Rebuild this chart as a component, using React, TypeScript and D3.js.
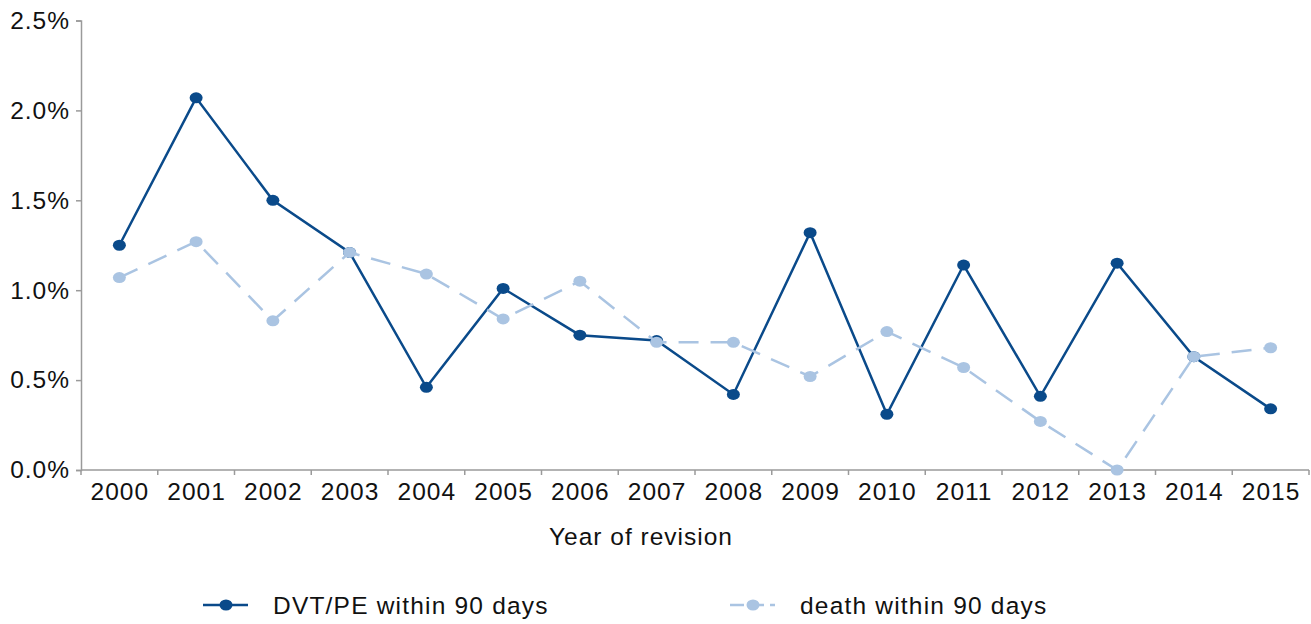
import React, { useEffect, useRef } from 'react';
import * as d3 from 'd3';

const years = ['2000', '2001', '2002', '2003', '2004', '2005', '2006', '2007', '2008', '2009', '2010', '2011', '2012', '2013', '2014', '2015'];
const dvtPe = [1.25, 2.07, 1.5, 1.21, 0.46, 1.01, 0.75, 0.72, 0.42, 1.32, 0.31, 1.14, 0.41, 1.15, 0.63, 0.34];
const death = [1.07, 1.27, 0.83, 1.21, 1.09, 0.84, 1.05, 0.71, 0.71, 0.52, 0.77, 0.57, 0.27, 0.0, 0.63, 0.68];
const yTicks = [0, 0.5, 1, 1.5, 2, 2.5];

const DARK = '#0a4a8a';
const LIGHT = '#aac4e2';
const FONT = '"Liberation Sans", Arial, sans-serif';
const FS = '24.5px';
const LS = '1px';

const App: React.FC = () => {
  const svgRef = useRef<SVGSVGElement | null>(null);

  const width = 1311;
  const height = 624;
  const margin = { top: 20.5, right: 2, bottom: 154, left: 81 };
  const innerW = width - margin.left - margin.right;
  const innerH = height - margin.top - margin.bottom;

  useEffect(() => {
    const root = d3.select(svgRef.current);
    root.selectAll('*').remove();

    const svg = root.append('g').attr('transform', `translate(${margin.left}, ${margin.top})`);

    const x = d3.scaleBand().domain(years).range([0, innerW]);
    const y = d3.scaleLinear().domain([0, 2.5]).range([innerH, 0]);

    // y axis
    const yAxis = svg
      .append('g')
      .call(
        d3
          .axisLeft(y)
          .tickValues(yTicks)
          .tickSize(5)
          .tickPadding(6)
          .tickFormat((d) => `${(+d).toFixed(1)}%`),
      );
    yAxis.select('.domain').attr('stroke', '#9a9a9a').attr('stroke-width', 1.5);
    yAxis.selectAll('.tick line').attr('stroke', '#9a9a9a').attr('stroke-width', 1.5);
    yAxis
      .selectAll('.tick text')
      .attr('fill', '#111')
      .style('font-family', FONT)
      .style('font-size', FS)
      .style('letter-spacing', LS);

    // x axis with ticks between categories
    const xAxis = svg.append('g').attr('transform', `translate(0, ${innerH})`);
    xAxis
      .append('line')
      .attr('x1', 0)
      .attr('x2', innerW)
      .attr('stroke', '#9a9a9a')
      .attr('stroke-width', 1.5);
    const bounds = years.map((yr) => x(yr)!).concat([innerW]);
    xAxis
      .selectAll('.xtick')
      .data(bounds)
      .join('line')
      .attr('class', 'xtick')
      .attr('x1', (d) => d)
      .attr('x2', (d) => d)
      .attr('y1', 0)
      .attr('y2', 5)
      .attr('stroke', '#9a9a9a')
      .attr('stroke-width', 1.5);
    xAxis
      .selectAll('.xlabel')
      .data(years)
      .join('text')
      .attr('class', 'xlabel')
      .attr('x', (d) => x(d)! + x.bandwidth() / 2 + 0.5)
      .attr('y', 30)
      .attr('text-anchor', 'middle')
      .attr('fill', '#111')
      .style('font-family', FONT)
      .style('font-size', FS)
      .style('letter-spacing', LS)
      .text((d) => d);

    svg
      .append('text')
      .attr('x', 641 - margin.left)
      .attr('y', 545 - margin.top)
      .attr('text-anchor', 'middle')
      .attr('fill', '#111')
      .style('font-family', FONT)
      .style('font-size', FS)
      .style('letter-spacing', LS)
      .text('Year of revision');

    const cx = (i: number) => x(years[i])! + x.bandwidth() / 2;
    const line = d3
      .line<number>()
      .x((_, i) => cx(i))
      .y((d) => y(d));

    // DVT/PE series
    svg
      .append('path')
      .datum(dvtPe)
      .attr('fill', 'none')
      .attr('stroke', DARK)
      .attr('stroke-width', 2.5)
      .attr('d', line);
    svg
      .selectAll('.dvt')
      .data(dvtPe)
      .join('ellipse')
      .attr('class', 'dvt')
      .attr('cx', (_, i) => cx(i))
      .attr('cy', (d) => y(d))
      .attr('rx', 6.5)
      .attr('ry', 5.5)
      .attr('fill', DARK);

    // death series
    svg
      .append('path')
      .datum(death)
      .attr('fill', 'none')
      .attr('stroke', LIGHT)
      .attr('stroke-width', 2.5)
      .attr('stroke-dasharray', '20,12')
      .attr('d', line);
    svg
      .selectAll('.death')
      .data(death)
      .join('ellipse')
      .attr('class', 'death')
      .attr('cx', (_, i) => cx(i))
      .attr('cy', (d) => y(d))
      .attr('rx', 6.5)
      .attr('ry', 5.5)
      .attr('fill', LIGHT);

    // legend
    const legend = root.append('g');
    const items = [
      { label: 'DVT/PE within 90 days', color: DARK, x: 203, dash: null },
      { label: 'death within 90 days', color: LIGHT, x: 730, dash: '14,6' },
    ];
    items.forEach((it) => {
      const g = legend.append('g').attr('transform', `translate(${it.x}, 605)`);
      g.append('line')
        .attr('x1', 0)
        .attr('x2', 45)
        .attr('stroke', it.color)
        .attr('stroke-width', 2.5)
        .attr('stroke-dasharray', it.dash ?? null);
      g.append('ellipse').attr('cx', 23).attr('rx', 6.5).attr('ry', 5.5).attr('fill', it.color);
      g.append('text')
        .attr('x', 70)
        .attr('y', 8.5)
        .attr('fill', '#111')
        .style('font-family', FONT)
        .style('font-size', FS)
        .style('letter-spacing', '1.2px')
        .text(it.label);
    });
  });

  return (
    <svg
      ref={svgRef}
      width={width}
      height={height}
      style={{ position: 'absolute', left: 0, top: 0, background: '#fff' }}
    ></svg>
  );
};

export default App;
